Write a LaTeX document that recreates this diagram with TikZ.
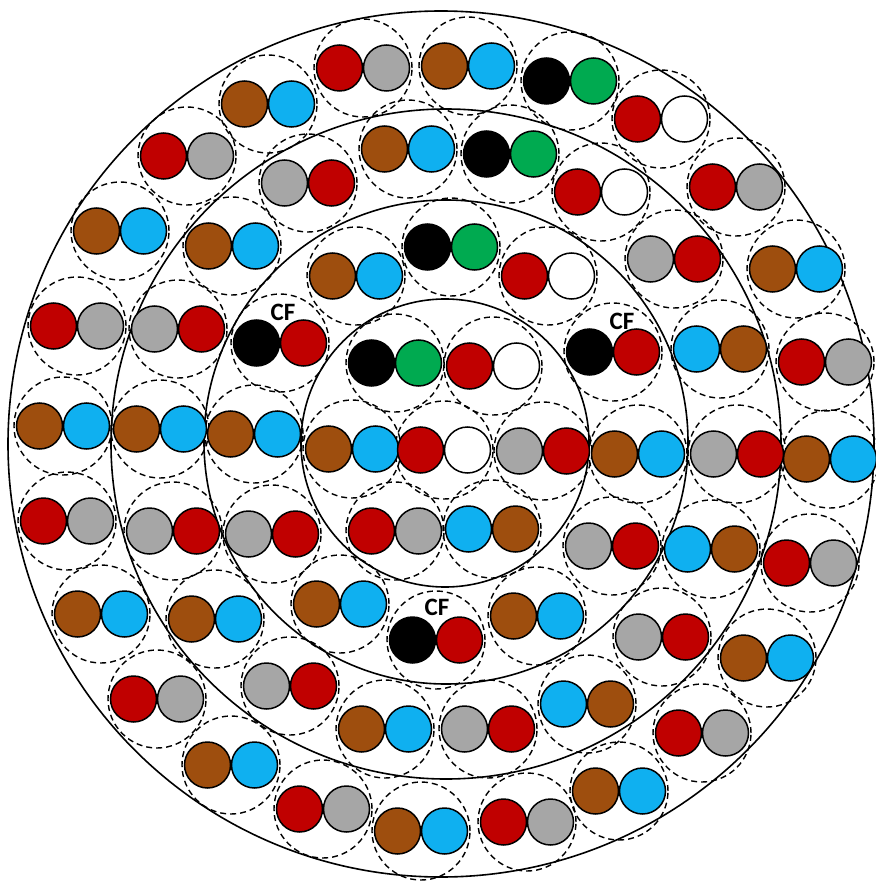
\documentclass[tikz,border=0pt]{standalone}
\usepackage{fontspec}
\newfontfamily\cflabel{Carlito}
\definecolor{cR}{RGB}{192,0,0}
\definecolor{cG}{RGB}{166,166,166}
\definecolor{cB}{RGB}{158,78,14}
\definecolor{cC}{RGB}{15,176,240}
\definecolor{cN}{RGB}{0,170,80}
\definecolor{cK}{RGB}{0,0,0}
\definecolor{cW}{RGB}{255,255,255}
\begin{document}
\begin{tikzpicture}[x=1pt,y=-1pt,
  ringline/.style={circle, draw, line width=1.6pt, inner sep=0pt},
  dashring/.style={circle, draw, dash pattern=on 6pt off 4pt, line width=1.4pt, minimum size=98pt, inner sep=0pt},
  ball/.style={circle, draw, line width=1.5pt, minimum size=46pt, inner sep=0pt},
  cftext/.style={font=\cflabel\bfseries\fontsize{25}{25}\selectfont, inner sep=0pt}]
\useasboundingbox (0,0) rectangle (875,882);
\def\pairs{
 1/363/68/cR/cG, 2/468/66/cB/cC, 3/570/81/cK/cN, 4/661/119/cR/cW, 5/736/187/cR/cG,
 6/796/269/cB/cC, 7/825/362/cR/cG, 8/830/459/cB/cC, 9/810/563/cR/cG, 10/767/658/cB/cC,
 11/702/733/cR/cG, 12/619/791/cB/cC, 13/527/822/cR/cG, 14/421/831/cB/cC, 15/323/809/cR/cG,
 16/231/765/cB/cC, 17/157/699/cR/cG, 18/101/614/cB/cC, 19/67/521/cR/cG, 20/63/426/cB/cC,
 21/77/326/cR/cG, 22/120/231/cB/cC, 23/187/156/cR/cG, 24/268/104/cB/cC,
 25/408/149/cB/cC, 26/510/154/cK/cN, 27/601/192/cR/cW, 28/674/259/cG/cR, 29/720/349/cC/cB,
 30/737/454/cG/cR, 31/711/549/cC/cB, 32/662/637/cG/cR, 33/587/704/cC/cB, 34/488/729/cG/cR,
 35/385/729/cB/cC, 36/290/686/cG/cR, 37/215/619/cB/cC, 38/173/531/cG/cR, 39/160/429/cB/cC,
 40/178/329/cG/cR, 41/232/246/cB/cC, 42/308/183/cG/cR,
 43/356/276/cB/cC, 44/451/247/cK/cN, 45/548/276/cR/cW, 46/613/352/cK/cR, 47/638/454/cB/cC,
 48/612/546/cG/cR, 49/537/616/cB/cC, 50/436/640/cK/cR, 51/340/604/cB/cC, 52/272/534/cG/cR,
 53/254/434/cB/cC, 54/280/343/cK/cR,
 55/395/363/cK/cN, 56/493/366/cR/cW, 57/352/449/cB/cC, 58/444/450/cR/cW, 59/543/451/cG/cR,
 60/395/531/cR/cG, 61/492/529/cC/cB}
% dashed envelopes
\foreach \n/\x/\y/\a/\b in \pairs {
  \node[dashring] (p\n) at (\x,\y) {};
}
% ring boundaries
\node[ringline, minimum size=866pt] (ringA) at (441,444) {};
\node[ringline, minimum size=670pt] (ringB) at (446,444) {};
\node[ringline, minimum size=484pt] (ringC) at (446,442) {};
\node[ringline, minimum size=288pt] (ringD) at (445,443) {};
% pairs of conductors
\foreach \n/\x/\y/\a/\b in \pairs {
  \node[ball, fill=\a] (p\n l) at ([xshift=-23.5pt]p\n.center) {};
  \node[ball, fill=\b] (p\n r) at ([xshift=23.5pt]p\n.center) {};
}
% CF labels
\node[cftext] (cf1) at (622,321) {CF};
\node[cftext] (cf2) at (437,607) {CF};
\node[cftext] (cf3) at (283,312) {CF};
\end{tikzpicture}
\end{document}
